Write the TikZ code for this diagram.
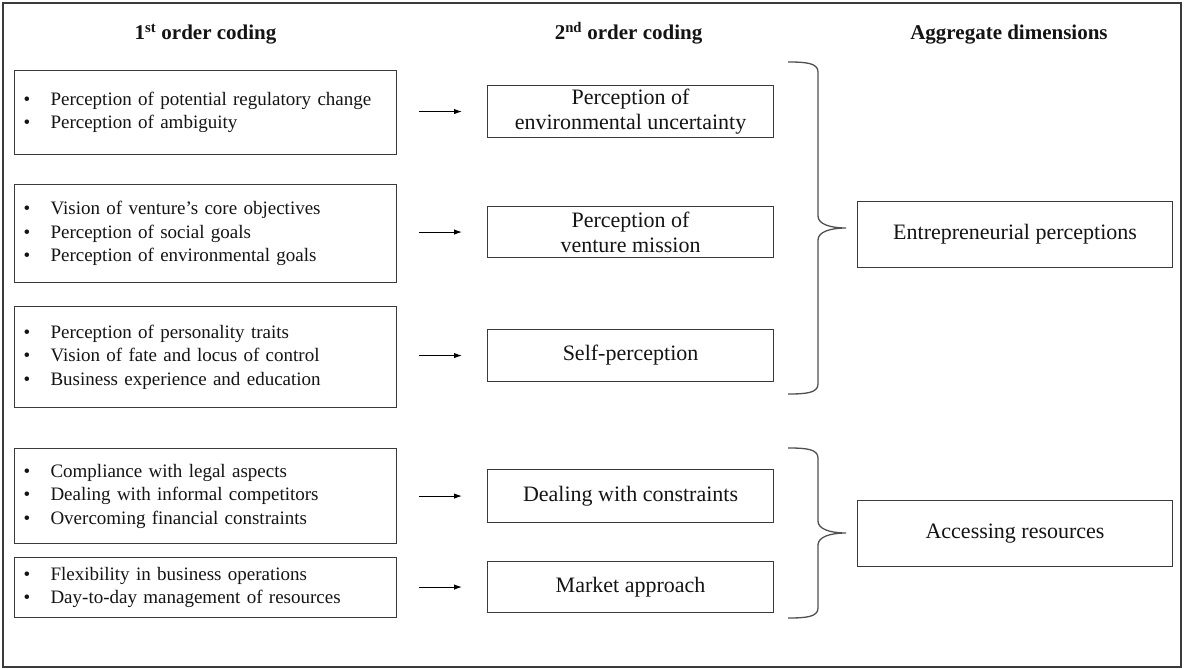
\documentclass[tikz,border=0pt]{standalone}
\usepackage{fontspec}
\setmainfont{Liberation Serif}
\usetikzlibrary{arrows.meta}
\definecolor{linegray}{HTML}{3A3A3A}
\definecolor{bracegray}{HTML}{505050}
\definecolor{inkblack}{HTML}{141414}
% bullet item used in the first-order boxes
\newcommand\itm{\makebox[27pt][l]{\textbullet}}
% curly brace opening to the right: top, middle and bottom y
\newcommand\rightbrace[3]{%
  \draw[bracestyle] (788,#1) .. controls (806,#1) and (818,{#1+1}) .. (818,{#1+10})
    -- (818,{#2-12}) .. controls (818,{#2-4}) and (830,#2) .. (846,#2)
    .. controls (830,#2) and (818,{#2+4}) .. (818,{#2+12})
    -- (818,{#3-10}) .. controls (818,{#3-1}) and (806,#3) .. (788,#3);}
\begin{document}
\begin{tikzpicture}[x=1pt,y=-1pt,
  frame/.style={draw=linegray, line width=1.8pt},
  box/.style={draw=linegray, line width=1.1pt, inner ysep=0pt, text=inkblack, anchor=north west},
  lbox/.style={box, inner xsep=9pt, text width=364pt, align=left,
    font=\fontsize{19}{23.5}\selectfont},
  mbox/.style={box, inner xsep=0pt, minimum width=286pt, align=center,
    font=\fontsize{22}{25}\selectfont},
  rbox/.style={box, inner xsep=0pt, minimum width=315pt, minimum height=66pt,
    font=\fontsize{22}{25}\selectfont},
  head/.style={anchor=base, text=inkblack, font=\fontsize{21}{25}\selectfont\bfseries},
  arr/.style={draw=black, line width=1.1pt, -{Latex[length=8pt,width=5.5pt]},
    shorten <=22pt, shorten >=25pt},
  bracestyle/.style={draw=bracegray, line width=1.3pt}]
\fill[white] (0,0) rectangle (1184,669);
\useasboundingbox (0,0) rectangle (1184,669);
\draw[frame] (3,3) rectangle (1181,667);

% column headings
\node[head] (H1) at (205.5,40) {1\textsuperscript{st} order coding};
\node[head] (H2) at (628.5,40) {2\textsuperscript{nd} order coding};
\node[head] (H3) at (1009,40) {Aggregate dimensions};

% first-order codes
\node[lbox, minimum height=84pt] (L1) at (14,70)
  {\itm Perception of potential regulatory change\\
   \itm Perception of ambiguity};
\node[lbox, minimum height=98pt] (L2) at (14,184)
  {\itm Vision of venture’s core objectives\\
   \itm Perception of social goals\\
   \itm Perception of environmental goals};
\node[lbox, minimum height=101pt] (L3) at (14,306)
  {\itm Perception of personality traits\\
   \itm Vision of fate and locus of control\\
   \itm Business experience and education};
\node[lbox, minimum height=95pt] (L4) at (14,448)
  {\itm Compliance with legal aspects\\
   \itm Dealing with informal competitors\\
   \itm Overcoming financial constraints};
\node[lbox, minimum height=60pt] (L5) at (14,557)
  {\itm Flexibility in business operations\\
   \itm Day-to-day management of resources};

% second-order themes
\node[mbox, minimum height=52pt] (M1) at (487,85) {Perception of\\environmental uncertainty};
\node[mbox, minimum height=51pt] (M2) at (487,206) {Perception of\\venture mission};
\node[mbox, minimum height=52pt] (M3) at (487,329) {Self-perception};
\node[mbox, minimum height=53pt] (M4) at (487,469) {Dealing with constraints};
\node[mbox, minimum height=51pt] (M5) at (487,561) {Market approach};

% aggregate dimensions
\node[rbox] (R1) at (857,201) {Entrepreneurial perceptions};
\node[rbox] (R2) at (857,500) {Accessing resources};

% arrows from first-order codes to themes
\foreach \i in {1,...,5}
  \draw[arr] (L\i.east |- M\i.west) -- (M\i.west);

% braces grouping the themes
\rightbrace{62}{228}{394}
\rightbrace{448}{533}{618}
\end{tikzpicture}
\end{document}
